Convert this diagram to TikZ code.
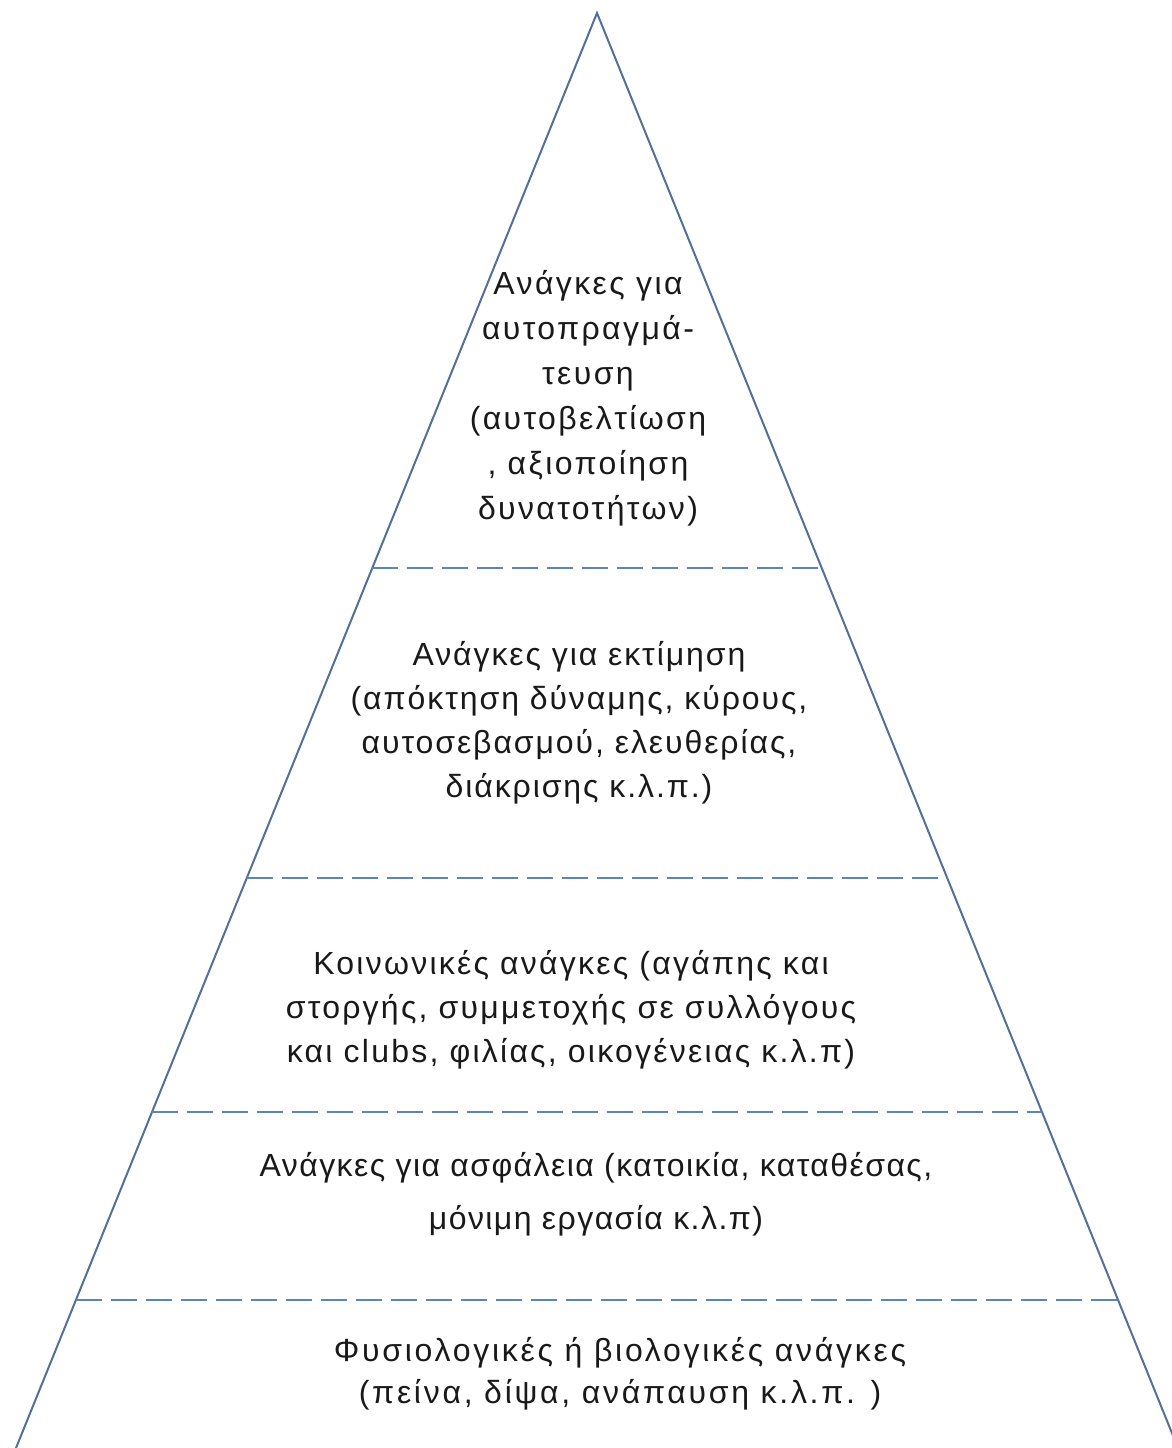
\documentclass[tikz,border=0pt]{standalone}
\usepackage{fontspec}
\setmainfont{Liberation Sans}
\newfontfamily\lsA[LetterSpace=7.5]{Liberation Sans}
\newfontfamily\lsB[LetterSpace=6]{Liberation Sans}
\newfontfamily\lsC[LetterSpace=7]{Liberation Sans}
\newfontfamily\lsD[LetterSpace=4.5]{Liberation Sans}
\newfontfamily\lsE[LetterSpace=8.5]{Liberation Sans}
\usetikzlibrary{calc}
\definecolor{edgeblue}{RGB}{79,112,160}
\definecolor{dashblue}{RGB}{92,132,190}
\definecolor{txt}{RGB}{25,25,25}
\tikzset{
  edge/.style={draw=edgeblue, line width=2pt},
  divider/.style={draw=dashblue, line width=2.2pt, dash pattern=on 26pt off 9pt},
  label/.style={align=center, text=txt, inner sep=0pt},
}
\begin{document}
\begin{tikzpicture}[x=1pt,y=1pt]
\useasboundingbox (0,0) rectangle (1171,-1448);
\coordinate (A) at (597,-13);
\coordinate (BL) at (16,-1448);
\coordinate (BR) at (1178,-1448);
\draw[edge] (BL) -- (A) -- (BR);
% dividers
\foreach \n/\t in {1/0.3868, 2/0.6028, 3/0.7659, 4/0.8969}{
  \coordinate (L\n) at ($(A)!\t!(BL)$);
  \coordinate (R\n) at ($(A)!\t!(BR)$);
  \draw[divider] (L\n) -- (R\n);
}
\node[label, font=\lsA\fontsize{32}{45}\selectfont] (t1) at (588,-398) {Ανάγκες για\\αυτοπραγμά-\\τευση\\(αυτοβελτίωση\\, αξιοποίηση\\δυνατοτήτων)};
\node[label, font=\lsB\fontsize{32}{44}\selectfont] (t2) at (579,-723) {Ανάγκες για εκτίμηση\\(απόκτηση δύναμης, κύρους,\\αυτοσεβασμού, ελευθερίας,\\διάκρισης κ.λ.π.)};
\node[label, font=\lsC\fontsize{32}{44}\selectfont] (t3) at (571,-1010) {Κοινωνικές ανάγκες (αγάπης και\\στοργής, συμμετοχής σε συλλόγους\\και clubs, φιλίας, οικογένειας κ.λ.π)};
\node[label, font=\lsD\fontsize{32}{53}\selectfont] (t4) at (596,-1194) {Ανάγκες για ασφάλεια (κατοικία, καταθέσας,\\μόνιμη εργασία κ.λ.π)};
\node[label, font=\lsE\fontsize{32}{42}\selectfont] (t5) at (620,-1374) {Φυσιολογικές ή βιολογικές ανάγκες\\(πείνα, δίψα, ανάπαυση κ.λ.π. )};
\end{tikzpicture}
\end{document}
